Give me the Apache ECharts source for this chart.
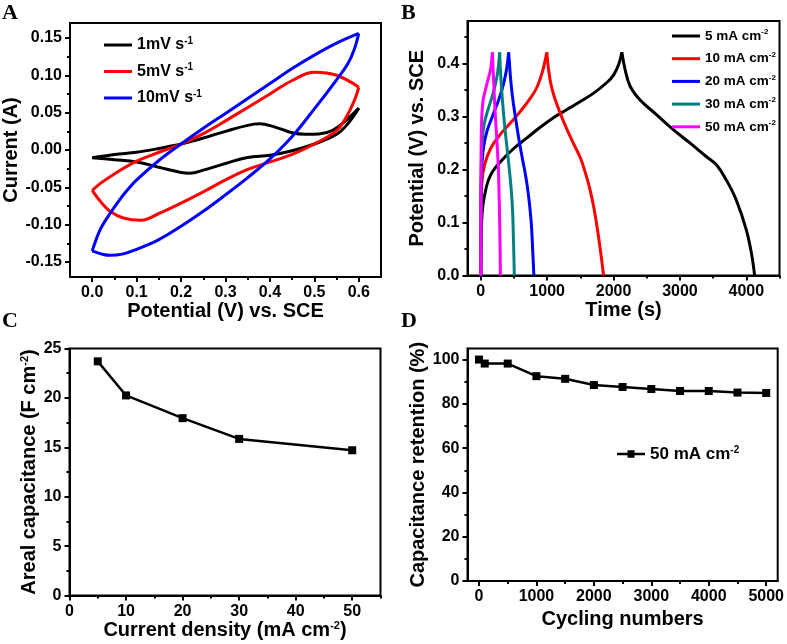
<!DOCTYPE html>
<html><head><meta charset="utf-8">
<script src="https://cdn.jsdelivr.net/npm/echarts@6/dist/echarts.min.js"></script>
<style>html,body{margin:0;padding:0;background:#fff}#c{width:787px;height:644px}</style>
</head><body><div id="c"></div>
<script>
// ---------- Panel A: cyclic voltammetry [V, I] ----------
const cv1Fwd = [[0,-0.0105],[0.05,-0.006],[0.1,-0.003],[0.15,0.002],[0.2,0.008],[0.25,0.016],[0.3,0.025],[0.35,0.033],[0.376,0.035],[0.41,0.031],[0.45,0.023],[0.48,0.021],[0.51,0.0215],[0.54,0.026],[0.57,0.039],[0.6,0.056]];
const cv1Rev = [[0.6,0.056],[0.575,0.035],[0.55,0.021],[0.5,0.008],[0.45,-0.001],[0.4,-0.007],[0.35,-0.010],[0.3,-0.018],[0.25,-0.027],[0.22,-0.031],[0.2,-0.030],[0.15,-0.023],[0.1,-0.016],[0.05,-0.013],[0,-0.0105]];
const cv5Fwd = [[0,-0.054],[0.02,-0.044],[0.05,-0.032],[0.1,-0.015],[0.15,-0.003],[0.2,0.008],[0.25,0.022],[0.3,0.039],[0.35,0.057],[0.4,0.075],[0.45,0.093],[0.5,0.104],[0.55,0.100],[0.6,0.084]];
const cv5Rev = [[0.6,0.084],[0.59,0.066],[0.57,0.042],[0.55,0.026],[0.5,0.008],[0.45,-0.006],[0.4,-0.016],[0.35,-0.026],[0.3,-0.040],[0.25,-0.056],[0.2,-0.071],[0.15,-0.085],[0.11,-0.094],[0.07,-0.091],[0.04,-0.082],[0.02,-0.070],[0,-0.054]];
const cv10Fwd = [[0,-0.135],[0.01,-0.118],[0.02,-0.104],[0.04,-0.085],[0.06,-0.068],[0.08,-0.053],[0.1,-0.040],[0.15,-0.014],[0.2,0.008],[0.25,0.029],[0.3,0.049],[0.35,0.069],[0.4,0.089],[0.45,0.109],[0.5,0.127],[0.55,0.143],[0.6,0.156]];
const cv10Rev = [[0.6,0.156],[0.59,0.135],[0.575,0.115],[0.55,0.094],[0.5,0.055],[0.45,0.018],[0.4,-0.012],[0.35,-0.037],[0.3,-0.060],[0.25,-0.082],[0.2,-0.102],[0.15,-0.120],[0.1,-0.133],[0.07,-0.139],[0.04,-0.141],[0.02,-0.139],[0,-0.135]];
const aXTicks = [0,0.1,0.2,0.3,0.4,0.5,0.6];
const aXMinor = [0.05,0.15,0.25,0.35,0.45,0.55];
const aYTicks = [-0.15,-0.1,-0.05,0,0.05,0.1,0.15];
const aYMinor = [-0.125,-0.075,-0.025,0.025,0.075,0.125];

// ---------- Panel B: galvanostatic charge / discharge [t, V] ----------
const gcd5Chg = [[0,0],[10,0.09],[30,0.13],[80,0.165],[150,0.19],[300,0.215],[500,0.24],[700,0.26],[900,0.28],[1100,0.298],[1300,0.313],[1500,0.328],[1700,0.344],[1900,0.364],[2000,0.378],[2080,0.399],[2125,0.421]];
const gcd5Dis = [[2125,0.421],[2175,0.388],[2250,0.357],[2400,0.331],[2650,0.303],[2900,0.275],[3150,0.25],[3400,0.224],[3550,0.209],[3700,0.18],[3850,0.142],[4000,0.086],[4080,0.04],[4125,0]];
const gcd10Chg = [[0,0],[5,0.12],[20,0.18],[60,0.21],[150,0.24],[300,0.267],[450,0.288],[600,0.31],[750,0.335],[850,0.356],[930,0.385],[995,0.421]];
const gcd10Dis = [[995,0.421],[1015,0.395],[1050,0.365],[1100,0.34],[1200,0.305],[1300,0.275],[1400,0.248],[1500,0.222],[1560,0.2],[1640,0.165],[1700,0.13],[1760,0.085],[1810,0.04],[1850,0]];
const gcd20Chg = [[0,0],[3,0.12],[10,0.19],[30,0.23],[60,0.255],[100,0.275],[160,0.295],[220,0.315],[280,0.335],[340,0.36],[390,0.39],[420,0.421]];
const gcd20Dis = [[420,0.421],[432,0.4],[450,0.37],[480,0.335],[520,0.3],[570,0.26],[620,0.225],[680,0.185],[720,0.15],[760,0.1],[785,0.04],[800,0]];
const gcd30Chg = [[0,0],[3,0.15],[10,0.22],[25,0.26],[50,0.285],[90,0.305],[140,0.325],[200,0.35],[250,0.38],[285,0.421]];
const gcd30Dis = [[285,0.421],[295,0.39],[315,0.35],[340,0.31],[370,0.27],[400,0.235],[430,0.2],[460,0.16],[480,0.12],[492,0.07],[500,0.03],[505,0]];
const gcd50Chg = [[0,0],[2,0.15],[6,0.25],[15,0.3],[35,0.33],[70,0.35],[110,0.37],[150,0.39],[175,0.421]];
const gcd50Dis = [[175,0.421],[185,0.39],[200,0.35],[220,0.3],[245,0.25],[265,0.2],[280,0.13],[290,0.06],[295,0]];
const bXTicks = [0,1000,2000,3000,4000];
const bXMinor = [500,1500,2500,3500,4500];
const bYTicks = [0,0.1,0.2,0.3,0.4];
const bYMinor = [0.05,0.15,0.25,0.35,0.45];

// ---------- Panel C: areal capacitance ----------
const cDensity = [5,10,20,30,50];
const cCapacitance = [23.7,20.25,17.95,15.85,14.7];
const cXTicks = [0,10,20,30,40,50];
const cXMinor = [5,15,25,35,45,55];
const cYTicks = [0,5,10,15,20,25];
const cYMinor = [2.5,7.5,12.5,17.5,22.5];

// ---------- Panel D: cycling stability ----------
const dCycles = [0,100,500,1000,1500,2000,2500,3000,3500,4000,4500,5000];
const dRetention = [100,98.2,98.2,92.5,91.3,88.5,87.6,86.7,85.8,85.8,85.1,84.9];
const dXTicks = [0,1000,2000,3000,4000,5000];
const dXMinor = [500,1500,2500,3500,4500];
const dYTicks = [0,20,40,60,80,100];
const dYMinor = [10,30,50,70,90];

const FONT = 'Liberation Sans';
function supRich(fs){return {sup:{fontSize:fs,fontWeight:'bold',fontFamily:FONT,color:'#000',verticalAlign:'top',lineHeight:fs}};}

function axisPair(dim, gi, min, max, major, minor, fmt, name, nameGap, labelMargin){
  const pos = dim==='x' ? 'bottom' : 'left';
  const base = {type:'value', gridIndex:gi, min:min, max:max, position:pos, splitLine:{show:false}};
  return [
    Object.assign({}, base, {
      name:name, nameLocation:'middle', nameGap:nameGap,
      nameTextStyle:{fontFamily:FONT,fontWeight:'bold',fontSize:20,color:'#000',rich:supRich(11)},
      axisLine:{show:true,onZero:false,lineStyle:{color:'#000',width:2}},
      axisTick:{show:true,customValues:major,length:5,lineStyle:{color:'#000',width:2}},
      axisLabel:{show:true,customValues:major,formatter:fmt,margin:labelMargin,color:'#000',fontFamily:FONT,fontWeight:'bold',fontSize:16}
    }),
    Object.assign({}, base, {
      axisLine:{show:false,onZero:false},
      axisLabel:{show:false},
      axisTick:{show:true,customValues:minor,length:3,lineStyle:{color:'#000',width:2}}
    })
  ];
}

const xAxes = [].concat(
  axisPair('x',0,-0.05,0.65,aXTicks,aXMinor,v=>v.toFixed(1),'Potential (V) vs. SCE',19,8),
  axisPair('x',1,-200,4500,bXTicks,bXMinor,v=>String(Math.round(v)),'Time (s)',19,8),
  axisPair('x',2,0,55,cXTicks,cXMinor,v=>String(Math.round(v)),'Current density (mA cm{sup|-2})',19,8),
  axisPair('x',3,-200,5200,dXTicks,dXMinor,v=>String(Math.round(v)),'Cycling numbers',28,8)
);
const yAxes = [].concat(
  axisPair('y',0,-0.17,0.17,aYTicks,aYMinor,v=>v.toFixed(2),'Current (A)',49,8),
  axisPair('y',1,0,0.48,bYTicks,bYMinor,v=>v.toFixed(1),'Potential (V) vs. SCE',40,8),
  axisPair('y',2,0,25,cYTicks,cYMinor,v=>String(Math.round(v)),'Areal capacitance (F cm{sup|-2})',30,8),
  axisPair('y',3,0,105,dYTicks,dYMinor,v=>String(Math.round(v)),'Capacitance retention (%)',39,8)
);

const gridStyle = {show:true,borderColor:'#000',borderWidth:2,backgroundColor:'transparent'};
const grids = [
  Object.assign({left:70,top:23,width:311,height:254},gridStyle),
  Object.assign({left:467.5,top:21,width:312,height:254.5},gridStyle),
  Object.assign({left:69.5,top:348.5,width:311,height:247},gridStyle),
  Object.assign({left:467.5,top:348.5,width:313,height:232.5},gridStyle)
];

function lineSeries(name, color, data, axisIdx){
  return {type:'line',name:name,xAxisIndex:axisIdx,yAxisIndex:axisIdx,data:data,
    symbol:'none',showSymbol:false,smooth:0.4,
    lineStyle:{color:color,width:3},itemStyle:{color:color},emphasis:{disabled:true},animation:false};
}

const legendNames = {
  '1mV s-1':'1mV s{sup|-1}','5mV s-1':'5mV s{sup|-1}','10mV s-1':'10mV s{sup|-1}',
  '5 mA cm-2':'5 mA cm{sup|-2}','10 mA cm-2':'10 mA cm{sup|-2}','20 mA cm-2':'20 mA cm{sup|-2}',
  '30 mA cm-2':'30 mA cm{sup|-2}','50 mA cm-2':'50 mA cm{sup|-2}','50 mA cm-2 ':'50 mA cm{sup|-2}'
};
const fmtLegend = n => legendNames[n] || n;

const series = [
  lineSeries('1mV s-1','#000000',cv1Fwd,0), lineSeries('1mV s-1','#000000',cv1Rev,0),
  lineSeries('5mV s-1','#ff0000',cv5Fwd,0), lineSeries('5mV s-1','#ff0000',cv5Rev,0),
  lineSeries('10mV s-1','#0000ff',cv10Fwd,0), lineSeries('10mV s-1','#0000ff',cv10Rev,0),
  lineSeries('5 mA cm-2','#000000',gcd5Chg,2), lineSeries('5 mA cm-2','#000000',gcd5Dis,2),
  lineSeries('10 mA cm-2','#ff0000',gcd10Chg,2), lineSeries('10 mA cm-2','#ff0000',gcd10Dis,2),
  lineSeries('20 mA cm-2','#0000ff',gcd20Chg,2), lineSeries('20 mA cm-2','#0000ff',gcd20Dis,2),
  lineSeries('30 mA cm-2','#008080',gcd30Chg,2), lineSeries('30 mA cm-2','#008080',gcd30Dis,2),
  lineSeries('50 mA cm-2','#ff00ff',gcd50Chg,2), lineSeries('50 mA cm-2','#ff00ff',gcd50Dis,2),
  {type:'line',name:'capC',xAxisIndex:4,yAxisIndex:4,data:cDensity.map((x,i)=>[x,cCapacitance[i]]),
   symbol:'rect',symbolSize:8,lineStyle:{color:'#000',width:2.5},itemStyle:{color:'#000'},animation:false},
  {type:'line',name:'50 mA cm-2 ',xAxisIndex:6,yAxisIndex:6,data:dCycles.map((x,i)=>[x,dRetention[i]]),
   symbol:'rect',symbolSize:8,lineStyle:{color:'#000',width:2.5},itemStyle:{color:'#000'},animation:false}
];

const legTxt = (fs, lh) => ({fontFamily:FONT,fontWeight:'bold',fontSize:fs,lineHeight:lh,color:'#000',rich:supRich(Math.round(fs*0.6))});
const lineIcon = 'rect';
const dIcon = 'path://M0,7.5 L28,7.5 L28,10 L0,10 Z M10.5,5 L17.5,5 L17.5,12.5 L10.5,12.5 Z';
const legends = [
  {data:['1mV s-1','5mV s-1','10mV s-1'].map(n=>({name:n,icon:lineIcon})),orient:'vertical',left:99,top:31,itemWidth:28,itemHeight:3,itemGap:8.5,
   formatter:fmtLegend,textStyle:legTxt(16,18),selectedMode:false},
  {data:['5 mA cm-2','10 mA cm-2','20 mA cm-2','30 mA cm-2','50 mA cm-2'].map(n=>({name:n,icon:lineIcon})),orient:'vertical',left:667,top:23,itemWidth:28,itemHeight:3,itemGap:6.7,
   formatter:fmtLegend,textStyle:legTxt(13.5,16),selectedMode:false},
  {data:[{name:'50 mA cm-2 ',icon:dIcon}],orient:'vertical',left:612,top:440,itemWidth:28,itemHeight:7.5,
   formatter:fmtLegend,textStyle:legTxt(17,18),selectedMode:false}
];

const letterFont = 'bold 22px "Liberation Serif"';
const option = {
  animation:false,
  backgroundColor:'#fff',
  grid:grids, xAxis:xAxes, yAxis:yAxes, series:series, legend:legends,
  graphic:[
    {type:'text',left:2,top:2,style:{text:'A',font:letterFont,fill:'#000'}},
    {type:'text',left:401,top:2,style:{text:'B',font:letterFont,fill:'#000'}},
    {type:'text',left:2,top:310,style:{text:'C',font:letterFont,fill:'#000'}},
    {type:'text',left:401,top:310,style:{text:'D',font:letterFont,fill:'#000'}}
  ]
};
const chart = echarts.init(document.getElementById('c'));
chart.setOption(option);
</script>
</body></html>
